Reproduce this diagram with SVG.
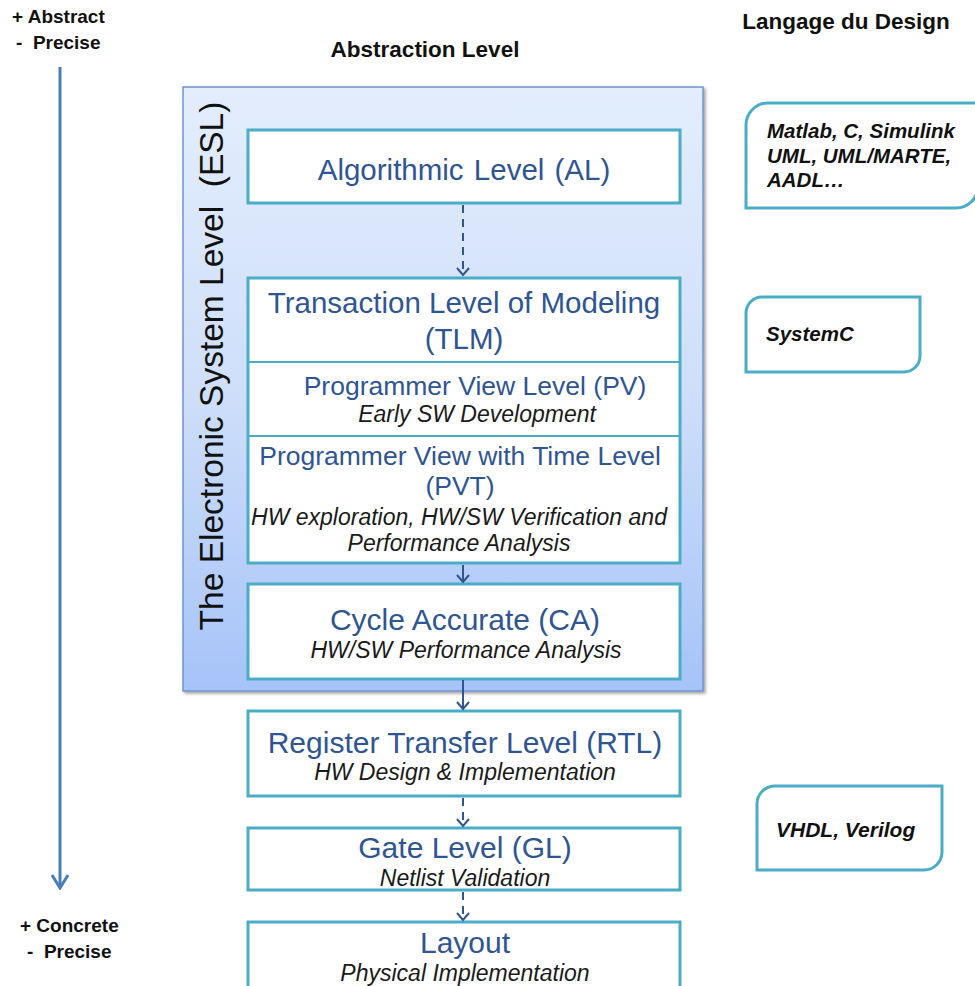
<svg xmlns="http://www.w3.org/2000/svg" width="975" height="986" viewBox="0 0 975 986">
<defs>
<linearGradient id="eslg" x1="0" y1="0" x2="0" y2="1">
<stop offset="0" stop-color="#e3edfc"/>
<stop offset="0.5" stop-color="#cfdffa"/>
<stop offset="1" stop-color="#a6c3f8"/>
</linearGradient>
<filter id="sh" x="-5%" y="-5%" width="110%" height="110%">
<feDropShadow dx="2" dy="2" stdDeviation="1.5" flood-color="#000" flood-opacity="0.35"/>
</filter>
<marker id="ah" viewBox="0 0 10 14" refX="8" refY="7" markerWidth="10" markerHeight="14" markerUnits="userSpaceOnUse" orient="auto">
<path d="M1,1 L8,7 L1,13" fill="none" stroke="#2f5592" stroke-width="2"/>
</marker>
<marker id="bigah" viewBox="0 0 16 20" refX="14" refY="10" markerWidth="16" markerHeight="20" markerUnits="userSpaceOnUse" orient="auto">
<path d="M1,2 L14,10 L1,18" fill="none" stroke="#4a7ebb" stroke-width="3"/>
</marker>
</defs>
<style>
.lbl{font-family:"Liberation Sans",Arial,sans-serif;font-weight:bold;fill:#111;}
.node{fill:#fff;stroke:#4bacc6;stroke-width:3;}
.t{font-family:"Liberation Sans",Arial,sans-serif;fill:#2f5592;text-anchor:middle;}
.s{font-family:"Liberation Sans",Arial,sans-serif;font-style:italic;fill:#1a1a1a;text-anchor:middle;font-size:23px;}
.lang{fill:#fff;stroke:#4bacc6;stroke-width:3;}
.lt{font-family:"Liberation Sans",Arial,sans-serif;font-weight:bold;font-style:italic;fill:#111;}
.c{fill:none;stroke:#2f5592;stroke-width:2;}
</style>
<rect width="975" height="986" fill="#fff"/>

<g id="headers">
<text class="lbl" x="12" y="23" font-size="19">+ Abstract</text>
<text class="lbl" x="16" y="49" font-size="19" xml:space="preserve">-  Precise</text>
<text class="lbl" x="20" y="932" font-size="19">+ Concrete</text>
<text class="lbl" x="27" y="958" font-size="19" xml:space="preserve">-  Precise</text>
<text class="lbl" x="425" y="57" font-size="22.5" text-anchor="middle">Abstraction Level</text>
<text class="lbl" x="846" y="29" font-size="22.5" text-anchor="middle">Langage du Design</text>
</g>

<g id="axis">
<line x1="60" y1="67" x2="60" y2="888" stroke="#4a7ebb" stroke-width="3" marker-end="url(#bigah)"/>
</g>

<g id="esl">
<rect x="183" y="87" width="520" height="604" fill="url(#eslg)" stroke="#6f95cc" stroke-width="1.5" filter="url(#sh)"/>
<text x="223" y="366" transform="rotate(-90 223 366)" font-family="Liberation Sans, Arial, sans-serif" font-size="33.5" fill="#111" text-anchor="middle" xml:space="preserve">The Electronic System Level  (ESL)</text>
</g>

<g id="al">
<rect class="node" x="248" y="130" width="432" height="73"/>
<text class="t" x="464" y="180" font-size="29.5" word-spacing="2">Algorithmic Level (AL)</text>
</g>

<g id="tlm">
<rect class="node" x="248" y="278" width="432" height="285"/>
<line x1="248" y1="362" x2="680" y2="362" stroke="#4bacc6" stroke-width="2"/>
<line x1="248" y1="436" x2="680" y2="436" stroke="#4bacc6" stroke-width="2"/>
<text class="t" x="464" y="313" font-size="29.5">Transaction Level of Modeling</text>
<text class="t" x="464" y="349" font-size="29.5">(TLM)</text>
<text class="t" x="475" y="395" font-size="26.5">Programmer View Level (PV)</text>
<text class="s" x="477" y="422">Early SW Development</text>
<text class="t" x="460" y="465" font-size="26.5">Programmer View with Time Level</text>
<text class="t" x="460" y="495" font-size="26.5">(PVT)</text>
<text class="s" x="459" y="525">HW exploration, HW/SW Verification and</text>
<text class="s" x="459" y="551">Performance Analysis</text>
</g>

<g id="ca">
<rect class="node" x="248" y="584" width="432" height="95"/>
<text class="t" x="465" y="630" font-size="30">Cycle Accurate (CA)</text>
<text class="s" x="466" y="658">HW/SW Performance Analysis</text>
</g>

<g id="rtl">
<rect class="node" x="248" y="711" width="432" height="85"/>
<text class="t" x="465" y="753" font-size="30">Register Transfer Level (RTL)</text>
<text class="s" x="465" y="780">HW Design &amp; Implementation</text>
</g>

<g id="gl">
<rect class="node" x="248" y="828" width="432" height="62"/>
<text class="t" x="465" y="858" font-size="30">Gate Level (GL)</text>
<text class="s" x="465" y="886">Netlist Validation</text>
</g>

<g id="layout">
<rect class="node" x="248" y="922" width="432" height="80"/>
<text class="t" x="465" y="953" font-size="30">Layout</text>
<text class="s" x="465" y="981">Physical Implementation</text>
</g>

<g id="connectors">
<line class="c" x1="463" y1="205" x2="463" y2="275" stroke-dasharray="8,6" marker-end="url(#ah)"/>
<line class="c" x1="463" y1="565" x2="463" y2="582" marker-end="url(#ah)"/>
<line class="c" x1="463" y1="680" x2="463" y2="709" marker-end="url(#ah)"/>
<line class="c" x1="463" y1="798" x2="463" y2="826" stroke-dasharray="8,6" marker-end="url(#ah)"/>
<line class="c" x1="463" y1="892" x2="463" y2="920" stroke-dasharray="8,6" marker-end="url(#ah)"/>
</g>

<g id="lang-matlab">
<path class="lang" d="M768,103 H978 V186 A22,22 0 0 1 956,208 H746 V125 A22,22 0 0 1 768,103 Z"/>
<text class="lt" x="767" y="138" font-size="20.5">Matlab, C, Simulink</text>
<text class="lt" x="767" y="162.5" font-size="20.5">UML, UML/MARTE,</text>
<text class="lt" x="767" y="187" font-size="20.5">AADL…</text>
</g>

<g id="lang-systemc">
<path class="lang" d="M762,297 H920 V356 A16,16 0 0 1 904,372 H746 V313 A16,16 0 0 1 762,297 Z"/>
<text class="lt" x="766" y="341" font-size="20.5">SystemC</text>
</g>

<g id="lang-vhdl">
<path class="lang" d="M775,786 H942 V852 A18,18 0 0 1 924,870 H757 V804 A18,18 0 0 1 775,786 Z"/>
<text class="lt" x="776" y="837" font-size="21">VHDL, Verilog</text>
</g>
</svg>
